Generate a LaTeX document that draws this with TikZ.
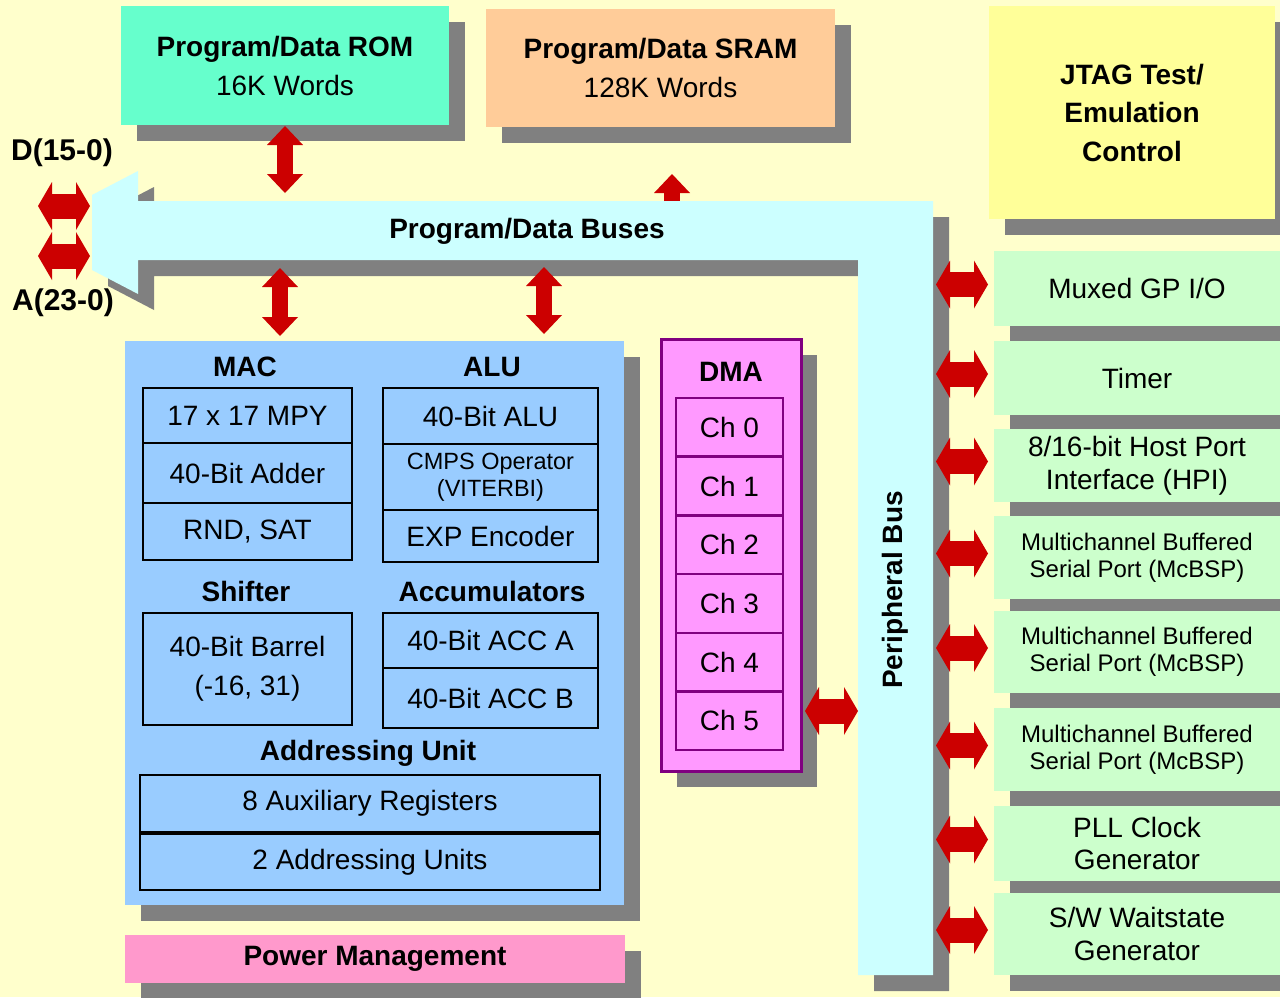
\documentclass[tikz,border=0pt]{standalone}
\usepackage{fontspec}
\setmainfont{Liberation Sans}
\usetikzlibrary{positioning, arrows.meta, shadows}

\definecolor{bgcol}{HTML}{FFFFCC}
\definecolor{romcol}{HTML}{66FFCC}
\definecolor{sramcol}{HTML}{FFCC99}
\definecolor{jtagcol}{HTML}{FFFF99}
\definecolor{buscol}{HTML}{CCFFFF}
\definecolor{cpucol}{HTML}{99CCFF}
\definecolor{pwrcol}{HTML}{FF99CC}
\definecolor{dmacol}{HTML}{FF99FF}
\definecolor{dmaline}{HTML}{800080}
\definecolor{percol}{HTML}{CCFFCC}
\definecolor{shadcol}{HTML}{808080}
\definecolor{arrcol}{HTML}{CC0000}

\begin{document}
\begin{tikzpicture}[x=1pt, y=-1pt, node distance=0pt,
    vtip/.tip={Triangle[width=36pt,length=19pt,line width=0pt]},
    htip/.tip={Triangle[width=48pt,length=14pt,line width=0pt]},
    blk/.style={anchor=north west, inner sep=0pt, outer sep=0pt, align=center,
        font=\fontsize{28}{39}\selectfont},
    shd/.style={drop shadow={shadow xshift=16pt, shadow yshift=-16pt, fill=shadcol, opacity=1}},
    inbox/.style={blk, draw=black, line width=2.5pt, fill=cpucol},
    chbox/.style={blk, draw=dmaline, line width=2.5pt, fill=dmacol,
        minimum width=107pt, minimum height=58.7pt},
    perbox/.style={blk, shd, fill=percol, minimum width=286pt,
        font=\fontsize{28}{32.5}\selectfont},
    mcbsp/.style={perbox, font=\fontsize{24}{27}\selectfont},
    ttl/.style={inner sep=0pt, font=\fontsize{28}{33}\selectfont\bfseries},
    fatv/.style={draw=arrcol, line width=16pt, {vtip}-{vtip}},
    fath/.style={draw=arrcol, line width=25pt, {htip}-{htip}}]

  \fill[bgcol, use as bounding box] (0,0) rectangle (1280,997);
  \clip (0,0) rectangle (1280,997);

  % memories and JTAG
  \node[blk, shd, fill=romcol, minimum width=328pt, minimum height=119pt] (rom) at (121,6)
      {\textbf{Program/Data ROM}\\16K Words};
  \node[blk, shd, fill=sramcol, minimum width=349pt, minimum height=118pt] (sram) at (486,9)
      {\textbf{Program/Data SRAM}\\128K Words};
  \node[blk, shd, fill=jtagcol, minimum width=286pt, minimum height=213pt,
      font=\fontsize{28}{38.5}\selectfont\bfseries] (jtag) at (989,6)
      {JTAG Test/\\Emulation\\Control};

  % buses
  \fill[buscol, shd] (92,195) -- (138,171) -- (138,201) -- (933,201) -- (933,975)
      -- (858,975) -- (858,260) -- (138,260) -- (138,294) -- (92,270) -- cycle;
  \coordinate (bn) at (0,201);
  \coordinate (bh) at (92,0);
  \coordinate (bw) at (858,0);
  \coordinate (be) at (933,0);
  \node[ttl] (busttl) at (527,231) {Program/Data Buses};
  \node[ttl, rotate=90] (pbttl) at (895,590) {Peripheral Bus};
  \node[ttl, font=\fontsize{30}{33}\selectfont\bfseries] (dlbl) at (62,153) {D(15-0)};
  \node[ttl, font=\fontsize{30}{33}\selectfont\bfseries] (albl) at (63,303) {A(23-0)};

  % CPU core
  \node[blk, shd, fill=cpucol, minimum width=499pt, minimum height=564pt] (cpu) at (125,341) {};
  \node[ttl] (macttl) at (245,367) {MAC};
  \node[ttl] (aluttl) at (492,367) {ALU};
  \node[inbox, minimum width=209pt, minimum height=55pt] (mpy) at (143,388) {17 x 17 MPY};
  \node[inbox, minimum width=209pt, minimum height=60pt, below=of mpy] (adder) {40-Bit Adder};
  \node[inbox, minimum width=209pt, minimum height=57pt, below=of adder] (rnd) {RND, SAT};
  \node[inbox, minimum width=215pt, minimum height=56pt] (alu) at (383,388) {40-Bit ALU};
  \node[inbox, minimum width=215pt, minimum height=66pt, below=of alu,
      font=\fontsize{23.5}{27}\selectfont] (cmps) {CMPS Operator\\(VITERBI)};
  \node[inbox, minimum width=215pt, minimum height=52pt, below=of cmps] (expenc) {EXP Encoder};
  \node[ttl] (shfttl) at (246,591) {Shifter};
  \node[ttl] (accttl) at (492,591) {Accumulators};
  \node[inbox, minimum width=209pt, minimum height=112pt] (barrel) at (143,613)
      {40-Bit Barrel\\(-16, 31)};
  \node[inbox, minimum width=215pt, minimum height=55pt] (acca) at (383,613) {40-Bit ACC A};
  \node[inbox, minimum width=215pt, minimum height=60pt, below=of acca] (accb) {40-Bit ACC B};
  \node[ttl] (adrttl) at (368,753) {Addressing Unit};
  \node[inbox, minimum width=460pt, minimum height=57pt] (aux) at (140,775) {8 Auxiliary Registers};
  \node[inbox, minimum width=460pt, minimum height=56pt] (agu) at (140,834) {2 Addressing Units};

  \node[blk, shd, fill=pwrcol, minimum width=500pt, minimum height=48pt,
      font=\fontsize{28}{33}\selectfont\bfseries] (pwr) at (125,935) {Power Management};

  % DMA
  \node[blk, shd, fill=dmacol, draw=dmaline, line width=3pt,
      minimum width=140pt, minimum height=432pt] (dma) at (661,339) {};
  \node[ttl] (dmattl) at (731,372) {DMA};
  \foreach \i in {0,...,5}
    \node[chbox] (ch\i) at (676,{398+58.7*\i}) {Ch \i};

  % peripherals
  \node[perbox, minimum height=75pt] (gpio) at (994,251) {Muxed GP I/O};
  \node[perbox, minimum height=74pt] (timer) at (994,341) {Timer};
  \node[perbox, minimum height=73pt] (hpi) at (994,429) {8/16-bit Host Port\\Interface (HPI)};
  \node[mcbsp, minimum height=83pt] (bsp1) at (994,516) {Multichannel Buffered\\Serial Port (McBSP)};
  \node[mcbsp, minimum height=82pt] (bsp2) at (994,611) {Multichannel Buffered\\Serial Port (McBSP)};
  \node[mcbsp, minimum height=83pt] (bsp3) at (994,708) {Multichannel Buffered\\Serial Port (McBSP)};
  \node[perbox, minimum height=75pt] (pll) at (994,806) {PLL Clock\\Generator};
  \node[perbox, minimum height=82pt] (wait) at (994,893) {S/W Waitstate\\Generator};

  % arrows
  \draw[fatv, shorten >=8pt] ([yshift=-1pt]rom.south) -- (rom.south |- bn);
  \coordinate (macpt) at (280,260);
  \coordinate (alupt) at (544,260);
  \draw[fatv, shorten <=8pt, shorten >=5pt] (macpt) -- (macpt |- cpu.north);
  \draw[fatv, shorten <=7pt, shorten >=7pt] (alupt) -- (alupt |- cpu.north);
  \coordinate (srampt) at (672,201);
  \coordinate (sramtip) at (672,174);
  \draw[fatv, -{vtip}] (srampt) -- (sramtip);
  \coordinate (dpin) at (38,206);
  \coordinate (apin) at (38,256);
  \draw[fath, shorten >=2pt] (dpin) -- (dpin -| bh);
  \draw[fath, shorten >=2pt] (apin) -- (apin -| bh);
  \coordinate (dmapt) at (801,711);
  \draw[fath, shorten <=4pt] (dmapt) -- (dmapt -| bw);
  \foreach \n in {gpio,timer,hpi,bsp1,bsp2,bsp3,pll,wait}
    \draw[fath, shorten <=3pt, shorten >=6pt] ([yshift=4pt]be |- \n.west) -- ([yshift=4pt]\n.west);

\end{tikzpicture}
\end{document}
